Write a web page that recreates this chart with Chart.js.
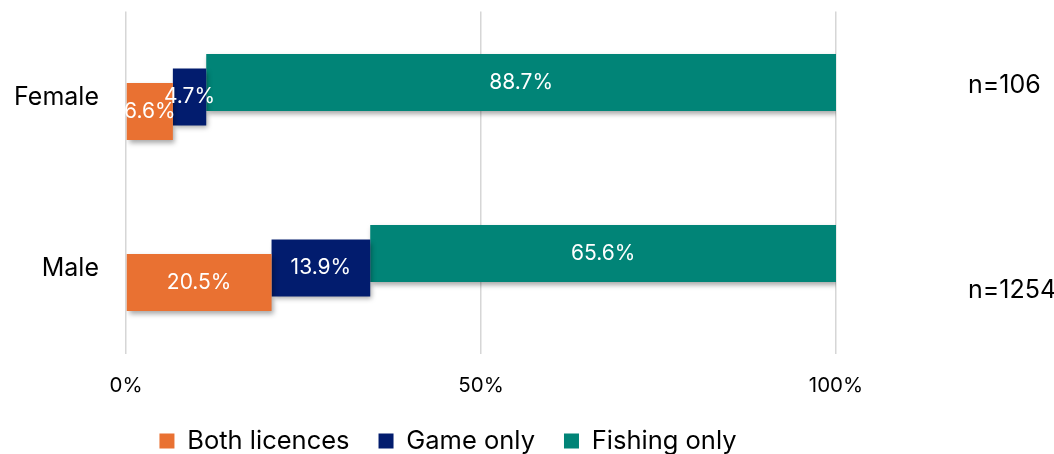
<!DOCTYPE html>
<html lang="en">
<head>
<meta charset="utf-8">
<title>Licence type by gender</title>
<script src="https://cdn.jsdelivr.net/npm/chart.js@4.4.1/dist/chart.umd.min.js"></script>
<style>
  html, body { margin: 0; padding: 0; background: #fff; }
  canvas { display: block; }
</style>
</head>
<body>
<canvas id="licenceChart" width="1054" height="454"></canvas>
<script>
// ---- data ----
const categories   = ['Female', 'Male'];
const bothLicences = [6.6, 20.5];
const gameOnly     = [4.7, 13.9];
const fishingOnly  = [88.7, 65.6];
const sampleSizes  = ['n=106', 'n=1254'];
const xTicks       = [0, 50, 100];

const FONT = 'Inter, "Noto Sans", sans-serif';
const STEP = 14.5;              // vertical step between stacked segments
const N_OFFSET = [-12, 22];     // n= labels, relative to the category centre
const LEGEND_LEFT = 60;         // legend is centred over this..plot right

// Each series is nudged up one step, so a bar reads as a staircase.
const staircase = {
  id: 'staircase',
  afterLayout(chart) {
    chart.legend.left = LEGEND_LEFT;
  },
  beforeDatasetDraw(chart, args) {
    const ctx = chart.ctx;
    ctx.save();
    ctx.translate(0, (1 - args.index) * STEP);
    ctx.shadowColor   = 'rgba(0,0,0,0.35)';
    ctx.shadowBlur    = 5;
    ctx.shadowOffsetX = 2;
    ctx.shadowOffsetY = 3;
  },
  afterDatasetDraw(chart) {
    chart.ctx.restore();
  },
  afterDatasetsDraw(chart) {
    const ctx = chart.ctx;
    ctx.save();

    // percentages inside the segments
    ctx.font = `21px ${FONT}`;
    ctx.fillStyle = '#fff';
    ctx.textAlign = 'center';
    ctx.textBaseline = 'middle';
    chart.data.datasets.forEach((ds, di) => {
      chart.getDatasetMeta(di).data.forEach((bar, i) => {
        ctx.fillText(ds.data[i].toFixed(1) + '%', (bar.x + bar.base) / 2, bar.y + (1 - di) * STEP);
      });
    });

    // sample sizes, right of the plot
    ctx.font = `25px ${FONT}`;
    ctx.fillStyle = '#000';
    ctx.textAlign = 'left';
    sampleSizes.forEach((txt, i) => {
      ctx.fillText(txt, chart.chartArea.right + 132, chart.scales.y.getPixelForValue(i) + N_OFFSET[i]);
    });
    ctx.restore();
  }
};

const series = [
  { label: 'Both licences', data: bothLicences, color: '#E97132' },
  { label: 'Game only',     data: gameOnly,     color: '#021C6E' },
  { label: 'Fishing only',  data: fishingOnly,  color: '#018477' },
];

new Chart(document.getElementById('licenceChart'), {
  type: 'bar',
  data: {
    labels: categories,
    datasets: series.map(s => ({
      label: s.label,
      data: s.data,
      backgroundColor: s.color,
      borderWidth: 0,
      categoryPercentage: 1,
      barPercentage: 0.333,
    })),
  },
  options: {
    indexAxis: 'y',
    responsive: false,
    animation: false,
    layout: { padding: { top: 11.5, left: 0, right: 218, bottom: -9.75 } },
    plugins: {
      tooltip: { enabled: false },
      legend: {
        position: 'bottom',
        labels: {
          boxWidth: 15,
          boxHeight: 15,
          padding: 29,
          color: '#000',
          font: { family: FONT, size: 25.5 },
        },
      },
    },
    scales: {
      x: {
        stacked: true,
        min: 0,
        max: 100,
        afterBuildTicks: s => { s.ticks = xTicks.map(v => ({ value: v })); },
        afterFit: s => { s.height = 45.75; },
        ticks: {
          color: '#000',
          padding: 19.7,
          font: { family: FONT, size: 20.5, lineHeight: 1.2 },
          callback: v => v + '%',
        },
        grid: { color: '#d6d6d6', lineWidth: 1.5, drawTicks: false },
        border: { display: false },
      },
      y: {
        stacked: true,
        afterFit: s => { s.width = 126; },
        ticks: {
          color: '#000',
          padding: 0,
          font: { family: FONT, size: 25, lineHeight: 0.9 },
        },
        // tick marks hidden, their length only spaces the labels from the plot
        grid: { display: false, drawTicks: true, tickLength: 27 },
        border: { display: false },
      },
    },
  },
  plugins: [staircase],
});
</script>
</body>
</html>
